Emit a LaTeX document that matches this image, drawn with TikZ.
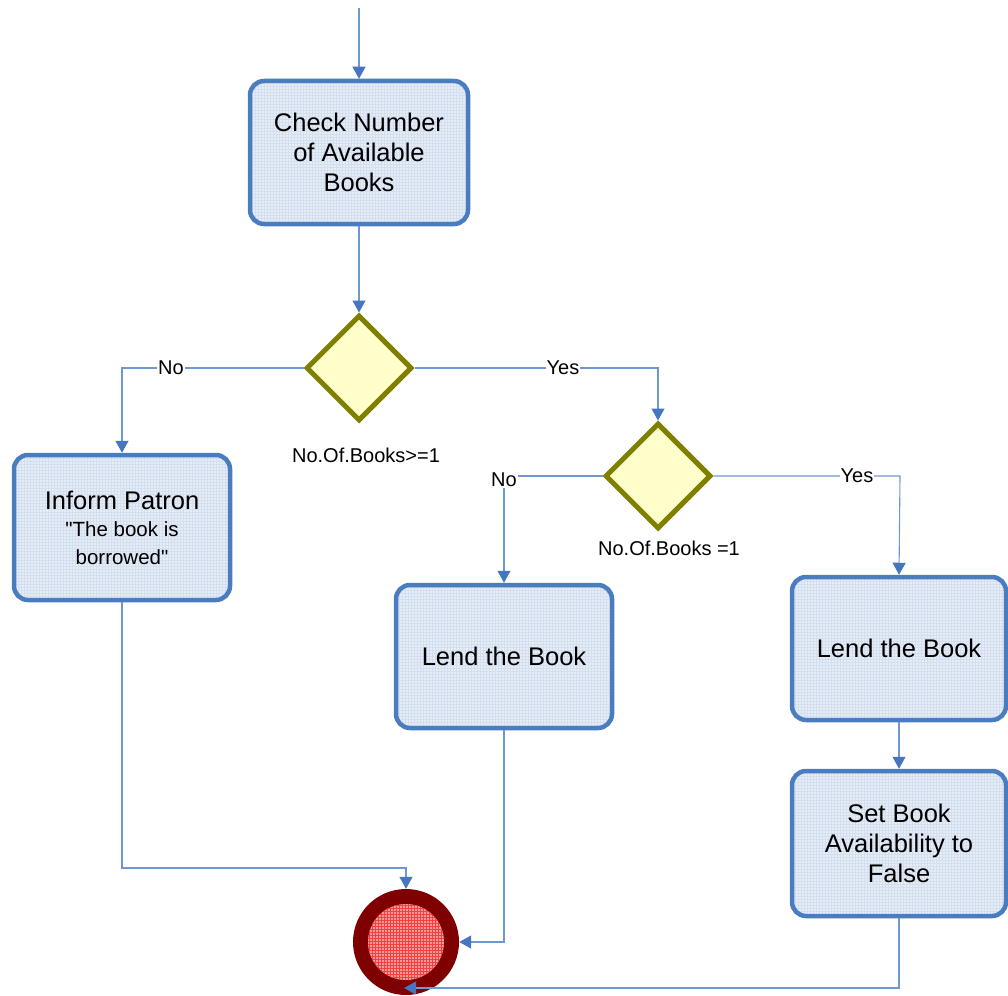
\documentclass[tikz,border=0pt]{standalone}
\usepackage{fontspec}
\setmainfont{Liberation Sans}[Ligatures=TeXOff]
\usetikzlibrary{arrows.meta,shapes.geometric,patterns}
\definecolor{boxline}{HTML}{4A7DC0}
\definecolor{boxfill}{HTML}{E6EDF7}
\definecolor{boxgrid}{HTML}{D3DEEF}
\definecolor{decline}{HTML}{808000}
\definecolor{decfill}{HTML}{FFFFCC}
\definecolor{connline}{HTML}{6F98D0}
\definecolor{tipblue}{HTML}{4676C0}
\definecolor{endouter}{HTML}{7F0000}
\definecolor{endinner}{HTML}{FF9A9A}
\definecolor{endgrid}{HTML}{F04040}
\tikzset{
  actbox/.style={draw=boxline, line width=4.5pt, rounded corners=14pt,
    preaction={fill=boxfill}, pattern=grid, pattern color=boxgrid,
    align=center, inner sep=0pt,
    font=\fontsize{25.5}{30}\selectfont},
  decision/.style={diamond, draw=decline, line width=5pt, fill=decfill,
    minimum width=106pt, minimum height=106pt, inner sep=0pt},
  conn/.style={draw=connline, line width=1.1pt,
    -{Triangle[length=12pt,width=13pt,color=tipblue]}},
  guard/.style={fill=white, inner sep=1pt, font=\fontsize{20}{23}\selectfont},
  cond/.style={inner sep=0pt, font=\fontsize{20}{23}\selectfont},
}
\begin{document}
\begin{tikzpicture}[x=1pt,y=-1pt]
\useasboundingbox (0,0) rectangle (1008,995);

% activities
\node[actbox, minimum width=218pt, minimum height=143pt] (check) at (359,152.5)
  {Check Number\\of Available\\Books};
\node[actbox, minimum width=216pt, minimum height=145pt] (inform) at (122,527.5)
  {Inform Patron\\[-3pt]{\fontsize{20.5}{29}\selectfont "The book is}\\[-2pt]{\fontsize{20.5}{29}\selectfont borrowed"}};
\node[actbox, minimum width=216pt, minimum height=143pt] (lendA) at (504,656.5)
  {Lend the Book};
\node[actbox, minimum width=214pt, minimum height=143pt] (lendB) at (899,648.5)
  {Lend the Book};
\node[actbox, minimum width=214pt, minimum height=145pt] (setav) at (899,843.5)
  {Set Book\\Availability to\\False};

% decisions
\node[decision] (dec1) at (359,368) {};
\node[cond] (cond1) at (366,455) {No.Of.Books>=1};
\node[decision] (dec2) at (658,476) {};
\node[cond] (cond2) at (669,548) {No.Of.Books =1};

% final node
\node[circle, fill=endouter, minimum size=106pt, inner sep=0pt] (final) at (406,942) {};
\node[circle, preaction={fill=endinner}, pattern=grid, pattern color=endgrid,
  minimum size=76pt, inner sep=0pt] (finalcore) at (406,942) {};

% entry point and bends
\coordinate (start) at (359,8);
\coordinate (noA) at (122,368);
\coordinate (yesA) at (658,368);
\coordinate (noB) at (504,476);
\coordinate (yesB) at (900,476);
\coordinate (bendI) at (122,868);
\coordinate (finalin) at (404,988);

% connectors
\draw[conn] (start) -- (check.north);
\draw[conn] (check.south) -- (dec1.north);
\draw[conn] (dec1.west) -- (noA) -- (inform.north);
\draw[conn] (dec1.east) -- (yesA) -- (dec2.north);
\draw[conn] (dec2.west) -- (noB) -- (lendA.north);
\draw[conn] (dec2.east) -- (yesB) -- (lendB.north);
\draw[conn] (lendB.south) -- (setav.north);
\draw[conn] (inform.south) -- (bendI) -| (final.north);
\draw[conn] (lendA.south) |- (final.east);
\draw[conn] (setav.south) |- (finalin);

% guards
\node[guard] (gNoA) at (171,368) {No};
\node[guard] (gYesA) at (563,368) {Yes};
\node[guard] (gNoB) at (504,480) {No};
\node[guard] (gYesB) at (857,476) {Yes};
\end{tikzpicture}
\end{document}
